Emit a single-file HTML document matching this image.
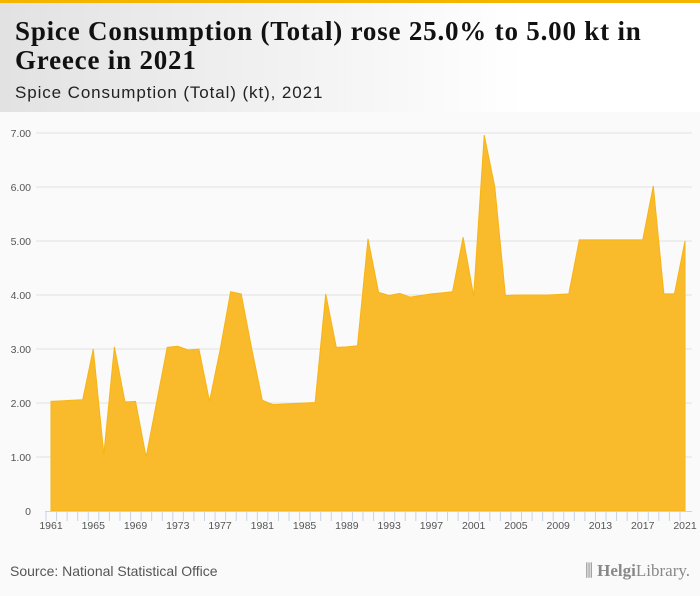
<!DOCTYPE html>
<html><head><meta charset="utf-8"><style>
body{margin:0;width:700px;height:596px;background:#fafafa;font-family:"Liberation Sans",sans-serif;overflow:hidden;position:relative}
#hdr{position:absolute;left:0;top:0;width:700px;height:112px;background:linear-gradient(90deg,#e2e2e2,#ffffff 75%);border-top:3px solid #f5b400;box-sizing:border-box}
#title{position:absolute;left:15px;top:14px;font-family:"Liberation Serif",serif;font-weight:bold;font-size:27px;line-height:29px;color:#111;margin:0;letter-spacing:0.8px;white-space:nowrap}
#sub{position:absolute;left:15px;top:80px;font-size:17px;color:#222;letter-spacing:0.9px}
#src{position:absolute;left:10px;top:563px;font-size:14px;color:#555}
#logo{position:absolute;right:10px;top:561px;font-family:"Liberation Serif",serif;font-size:17px;color:#888}
svg{position:absolute;left:0;top:0}
</style></head><body>
<div id="hdr">
<h1 id="title">Spice Consumption (Total) rose 25.0% to 5.00 kt in<br>Greece in 2021</h1>
<div id="sub">Spice Consumption (Total) (kt), 2021</div>
</div>
<svg id="chart" width="700" height="596"></svg>
<div id="src">Source: National Statistical Office</div>
<div id="logo">⫼ <b>Helgi</b>Library.</div>
<script>
const years=[];for(let y=1961;y<=2021;y++)years.push(y);
const values=[2.03,2.04,2.05,2.06,3.0,1.05,3.04,2.02,2.03,1.0,2.02,3.03,3.05,2.98,3.0,2.03,2.98,4.06,4.02,3.0,2.05,1.97,1.98,1.99,2.0,2.01,4.02,3.03,3.04,3.06,5.04,4.05,3.99,4.03,3.96,3.99,4.02,4.04,4.06,5.07,3.98,6.96,6.0,3.99,4.0,4.0,4.0,4.0,4.01,4.02,5.02,5.02,5.02,5.02,5.02,5.02,5.02,6.02,4.02,4.02,5.0];
const yTicks=[0,1,2,3,4,5,6,7];
const yTickLabels=["0","1.00","2.00","3.00","4.00","5.00","6.00","7.00"];
const NS="http://www.w3.org/2000/svg",svg=document.getElementById('chart');
const x0=51,x1=685,yb=511,yt=133;
const xs=y=>x0+(y-1961)*(x1-x0)/60, ys=v=>yb-v*(yb-yt)/7;
function mk(t,a){const e=document.createElementNS(NS,t);for(const k in a)e.setAttribute(k,a[k]);svg.appendChild(e);return e;}
yTicks.forEach((v,i)=>{
 if(v>0){const g=mk('line',{x1:36,x2:692,y1:ys(v),y2:ys(v),stroke:'#e2e2e2','stroke-width':1});
 
 }
 const t=mk('text',{x:31,y:ys(v)+4,'text-anchor':'end','font-size':'10.5','fill':'#555','font-family':'Liberation Sans, sans-serif'});
 t.textContent=yTickLabels[i];
 
 
});
let d='M'+xs(years[0])+','+yb;
years.forEach((y,i)=>{d+=' L'+xs(y)+','+ys(values[i]);});
d+=' L'+xs(years[years.length-1])+','+yb+' Z';
const area=mk('path',{d:d,fill:'#f9bb2c',stroke:'#f7b417','stroke-width':1});


const ax=mk('line',{x1:45,x2:692,y1:yb+0.5,y2:yb+0.5,stroke:'#c8d3e6','stroke-width':1});


years.forEach(y=>{
 const tk=mk('line',{x1:xs(y)-5,x2:xs(y)-5,y1:yb,y2:yb+10,stroke:'#c8d3e6','stroke-width':1});
 
 
 if((y-1961)%4===0){
  const t=mk('text',{x:xs(y),y:yb+18,'text-anchor':'middle','font-size':'10.5','fill':'#555','font-family':'Liberation Sans, sans-serif'});
  t.textContent=y;
  
  
 }
});
</script>
</body></html>
